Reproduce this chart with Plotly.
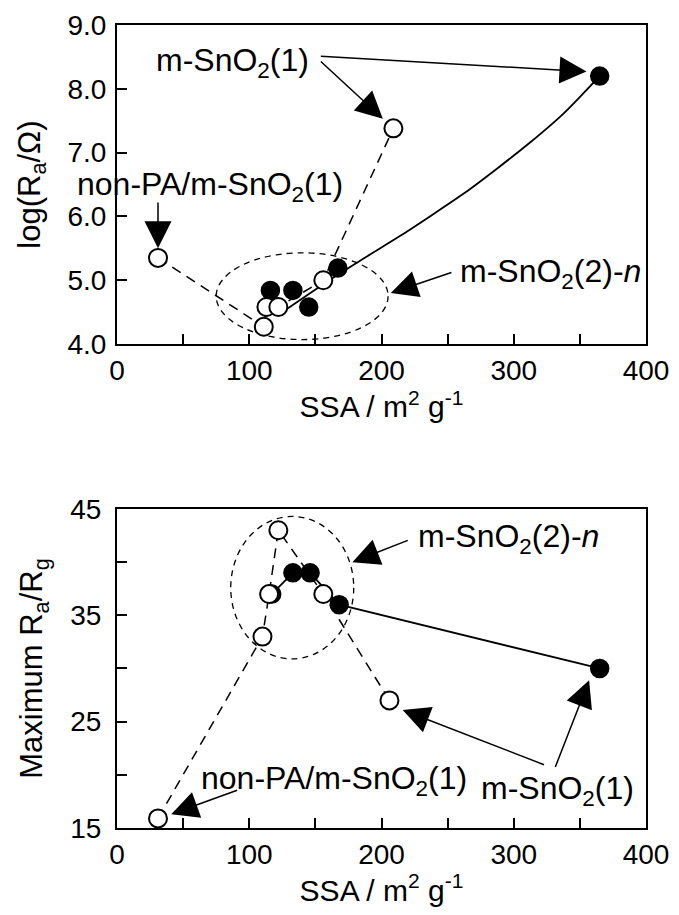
import plotly.graph_objects as go
from plotly.subplots import make_subplots

# ---------------- data ----------------
# Top panel: log(Ra/Ohm) vs SSA
top_open_x = [31, 111, 113, 122, 156, 209]
top_open_y = [5.35, 4.27, 4.58, 4.58, 5.00, 7.38]
top_fill_x = [116, 133, 145, 167, 365]
top_fill_y = [4.84, 4.84, 4.58, 5.19, 8.20]
# trend curve through filled points
top_fit_x = [125, 162, 188, 213, 238, 263, 288, 313, 338, 364]
top_fit_y = [4.50, 5.02, 5.36, 5.68, 6.02, 6.37, 6.76, 7.17, 7.62, 8.18]

# Bottom panel: Maximum Ra/Rg vs SSA
bot_open_x = [31, 110, 115, 122, 156, 206]
bot_open_y = [15.9, 33.0, 37.0, 43.0, 37.0, 27.0]
bot_fill_x = [117, 133, 146, 168, 365]
bot_fill_y = [37.0, 39.0, 39.0, 36.0, 30.0]

x_ticks = [0, 50, 100, 150, 200, 250, 300, 350, 400]
x_labels = ["0", "", "100", "", "200", "", "300", "", "400"]
top_y_ticks = [4, 5, 6, 7, 8, 9]
top_y_labels = ["4.0", "5.0", "6.0", "7.0", "8.0", "9.0"]
bot_y_ticks = [15, 20, 25, 30, 35, 40, 45]
bot_y_labels = ["15", "", "25", "", "35", "", "45"]

FONT = "Liberation Sans, Arial, sans-serif"

fig = make_subplots(rows=2, cols=1, vertical_spacing=0.2054)

# ---- top traces ----
fig.add_trace(go.Scatter(x=top_open_x, y=top_open_y, mode="lines",
                         line=dict(color="black", width=1.5, dash="10px,7px")), row=1, col=1)
fig.add_trace(go.Scatter(x=top_fit_x, y=top_fit_y, mode="lines",
                         line=dict(color="black", width=1.8, shape="spline", smoothing=0.8)),
              row=1, col=1)
fig.add_trace(go.Scatter(x=top_fill_x, y=top_fill_y, mode="markers",
                         marker=dict(symbol="circle", size=18, color="black",
                                     line=dict(color="black", width=1.5))), row=1, col=1)
fig.add_trace(go.Scatter(x=top_open_x, y=top_open_y, mode="markers",
                         marker=dict(symbol="circle", size=18, color="white",
                                     line=dict(color="black", width=2))), row=1, col=1)

# ---- bottom traces ----
fig.add_trace(go.Scatter(x=bot_open_x, y=bot_open_y, mode="lines",
                         line=dict(color="black", width=1.5, dash="10px,7px")), row=2, col=1)
fig.add_trace(go.Scatter(x=bot_fill_x, y=bot_fill_y, mode="lines",
                         line=dict(color="black", width=1.8)), row=2, col=1)
fig.add_trace(go.Scatter(x=bot_fill_x, y=bot_fill_y, mode="markers",
                         marker=dict(symbol="circle", size=18, color="black",
                                     line=dict(color="black", width=1.5))), row=2, col=1)
fig.add_trace(go.Scatter(x=bot_open_x, y=bot_open_y, mode="markers",
                         marker=dict(symbol="circle", size=18, color="white",
                                     line=dict(color="black", width=2))), row=2, col=1)

# ---- dashed ellipses ----
fig.add_shape(type="circle", xref="x", yref="y", x0=75, x1=205, y0=4.07, y1=5.43,
              line=dict(color="black", width=1.3, dash="6px,5px"), layer="below")
fig.add_shape(type="circle", xref="x2", yref="y2", x0=86, x1=179, y0=30.9, y1=44.3,
              line=dict(color="black", width=1.3, dash="6px,5px"), layer="below")

# ---- annotations ----
TXT = 32
def label(text, x, y, xref, yref, xanchor="center"):
    fig.add_annotation(text=text, x=x, y=y, xref=xref, yref=yref, showarrow=False,
                       xanchor=xanchor, yanchor="middle", borderpad=0,
                       font=dict(family=FONT, size=TXT, color="black"))

def arrow(x, y, ax, ay, xref, yref):
    fig.add_annotation(text="", x=x, y=y, ax=ax, ay=ay, xref=xref, yref=yref,
                       axref=xref, ayref=yref, showarrow=True, arrowhead=2,
                       arrowsize=3.6, arrowwidth=1.5, arrowcolor="black", standoff=0)

# top panel
label("m-SnO<sub>2</sub>(1)", 29, 8.42, "x", "y", xanchor="left")
arrow(355, 8.27, 153, 8.51, "x", "y")
arrow(201, 7.53, 153, 8.45, "x", "y")
label("non-PA/m-SnO<sub>2</sub>(1)", 70, 6.47, "x", "y")
arrow(31, 5.50, 31, 6.24, "x", "y")
label("m-SnO<sub>2</sub>(2)-<i>n</i>", 328, 5.1, "x", "y")
arrow(207, 4.80, 254, 5.13, "x", "y")

# bottom panel
label("m-SnO<sub>2</sub>(2)-<i>n</i>", 296, 42.2, "x2", "y2")
arrow(178, 40.0, 221, 42.1, "x2", "y2")
label("non-PA/m-SnO<sub>2</sub>(1)", 164, 19.5, "x2", "y2")
arrow(41, 16.3, 92, 18.6, "x2", "y2")
label("m-SnO<sub>2</sub>(1)", 333, 18.5, "x2", "y2")
arrow(216, 26.1, 324, 20.9, "x2", "y2")
arrow(357, 28.9, 331, 20.6, "x2", "y2")

# ---- axes ----
axis_common = dict(showline=True, linecolor="black", linewidth=2, mirror=True,
                   ticks="inside", ticklen=10, tickwidth=2, tickcolor="black",
                   showgrid=False, zeroline=False, automargin=False,
                   tickfont=dict(family=FONT, size=28, color="black"))
xtitle = dict(text="SSA / m<sup>2</sup> g<sup>-1</sup>",
              font=dict(family=FONT, size=30, color="black"), standoff=6)
for r in (1, 2):
    fig.update_xaxes(range=[0, 400], tickmode="array", tickvals=x_ticks, ticktext=x_labels,
                     title=xtitle, row=r, col=1, **axis_common)
fig.update_yaxes(range=[4, 9], tickmode="array", tickvals=top_y_ticks, ticktext=top_y_labels,
                 title=dict(text="log(R<sub>a</sub>/Ω)", font=dict(family=FONT, size=31, color="black"),
                            standoff=18),
                 ticklabelstandoff=3, row=1, col=1, **axis_common)
fig.update_yaxes(range=[15, 45], tickmode="array", tickvals=bot_y_ticks, ticktext=bot_y_labels,
                 title=dict(text="Maximum R<sub>a</sub>/R<sub>g</sub>",
                            font=dict(family=FONT, size=31, color="black"), standoff=18),
                 ticklabelstandoff=8, row=2, col=1, **axis_common)

# page body has an 8px margin, so the figure is sized/offset to compensate
fig.update_layout(width=663, height=899, showlegend=False,
                  margin=dict(l=109, r=25, t=17, b=79, autoexpand=False),
                  plot_bgcolor="white", paper_bgcolor="white",
                  font=dict(family=FONT, color="black"))
fig.update_layout(yaxis=dict(domain=[0.6027, 1.0]), yaxis2=dict(domain=[0.0, 0.3973]))

fig.write_html("out.html")
